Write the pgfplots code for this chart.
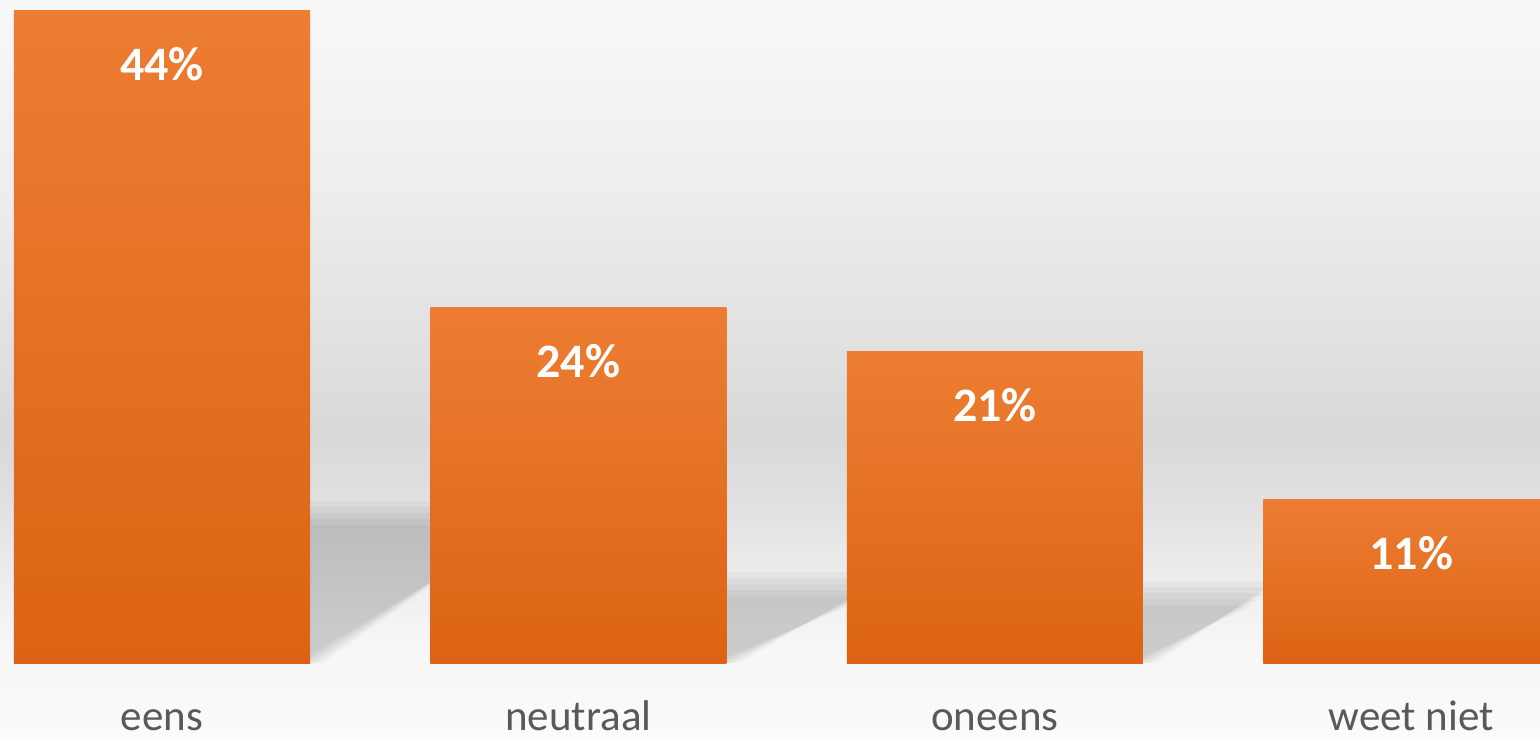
\documentclass[border=0pt]{standalone}
\usepackage{pgfplots}
\pgfplotsset{compat=1.18}
\usepackage{fontspec}
\setmainfont{Carlito}

\definecolor{bartop}{HTML}{ED7D33}
\definecolor{barbot}{HTML}{DC6313}
\definecolor{labgrey}{HTML}{595959}
\definecolor{bgA}{HTML}{FBFBFB}
\definecolor{bgB}{HTML}{F6F6F6}
\definecolor{bgC}{HTML}{EAEAEA}
\definecolor{bgD}{HTML}{E0E0E0}
\definecolor{bgE}{HTML}{D9D9D9}
\definecolor{bgF}{HTML}{EDEDED}
\definecolor{bgG}{HTML}{F8F8F8}

% tikz maps the middle half (25bp..75bp) of a shading onto the path
\pgfdeclareverticalshading{chartbg}{100bp}{%
  color(0bp)=(bgA); color(25bp)=(bgA); color(31.6bp)=(bgB);
  color(37.1bp)=(bgC); color(41.1bp)=(bgD); color(45.6bp)=(bgE);
  color(61.5bp)=(bgF); color(75bp)=(bgG); color(100bp)=(bgG)}

\begin{document}
\begin{tikzpicture}
\useasboundingbox (0,-37.5pt) rectangle (770pt,331.5pt);
\shade[shading=chartbg] (0,-37.5pt) rectangle (770pt,331.5pt);

\begin{axis}[
    at={(0,0)}, anchor=south west,
    scale only axis,
    width=770pt, height=331.5pt,
    xmin=-0.389, xmax=3.309,
    ymin=0, ymax=44.74,
    axis line style={draw=none},
    tick style={draw=none},
    ytick=\empty,
    xtick={0,1,2,3},
    xticklabels={eens,neutraal,oneens,weet niet},
    xticklabel style={anchor=base, yshift=-33.5pt,
        font=\fontsize{21.5}{24}\selectfont, text=labgrey},
    /pgf/number format/assume math mode=true,
    mybar/.style={ybar, bar width=0.711, bar shift=0pt, draw=none,
        top color=bartop, bottom color=barbot,
        nodes near coords={\pgfmathprintnumber{\pgfplotspointmeta}\%},
        every node near coord/.append style={anchor=base, yshift=-35pt,
            text=white, font=\bfseries\fontsize{24}{26}\selectfont}},
    shadow/.style={draw=none, fill=black, fill opacity=0.037, forget plot},
]

% floor shadows behind the bars, five soft layers each
\addplot[shadow] coordinates {(-0.3555,0)(0.3843,0)(0.9243,10.91)(0.1845,10.91)} -- cycle;
\addplot[shadow] coordinates {(-0.3555,0)(0.3699,0)(0.9099,10.505)(0.1845,10.505)} -- cycle;
\addplot[shadow] coordinates {(-0.3555,0)(0.3555,0)(0.8955,10.1)(0.1845,10.1)} -- cycle;
\addplot[shadow] coordinates {(-0.3555,0)(0.3411,0)(0.8811,9.695)(0.1845,9.695)} -- cycle;
\addplot[shadow] coordinates {(-0.3555,0)(0.3267,0)(0.8667,9.29)(0.1845,9.29)} -- cycle;

\addplot[shadow] coordinates {(0.6445,0)(1.3843,0)(1.7593,6.11)(1.0195,6.11)} -- cycle;
\addplot[shadow] coordinates {(0.6445,0)(1.3699,0)(1.7449,5.705)(1.0195,5.705)} -- cycle;
\addplot[shadow] coordinates {(0.6445,0)(1.3555,0)(1.7305,5.3)(1.0195,5.3)} -- cycle;
\addplot[shadow] coordinates {(0.6445,0)(1.3411,0)(1.7161,4.895)(1.0195,4.895)} -- cycle;
\addplot[shadow] coordinates {(0.6445,0)(1.3267,0)(1.7017,4.49)(1.0195,4.49)} -- cycle;

\addplot[shadow] coordinates {(1.6445,0)(2.3843,0)(2.6743,5.51)(1.9345,5.51)} -- cycle;
\addplot[shadow] coordinates {(1.6445,0)(2.3699,0)(2.6599,5.105)(1.9345,5.105)} -- cycle;
\addplot[shadow] coordinates {(1.6445,0)(2.3555,0)(2.6455,4.7)(1.9345,4.7)} -- cycle;
\addplot[shadow] coordinates {(1.6445,0)(2.3411,0)(2.6311,4.295)(1.9345,4.295)} -- cycle;
\addplot[shadow] coordinates {(1.6445,0)(2.3267,0)(2.6167,3.89)(1.9345,3.89)} -- cycle;

\addplot[shadow] coordinates {(2.6445,0)(3.3843,0)(3.5343,3.31)(2.7945,3.31)} -- cycle;
\addplot[shadow] coordinates {(2.6445,0)(3.3699,0)(3.5199,2.905)(2.7945,2.905)} -- cycle;
\addplot[shadow] coordinates {(2.6445,0)(3.3555,0)(3.5055,2.5)(2.7945,2.5)} -- cycle;
\addplot[shadow] coordinates {(2.6445,0)(3.3411,0)(3.4911,2.095)(2.7945,2.095)} -- cycle;
\addplot[shadow] coordinates {(2.6445,0)(3.3267,0)(3.4767,1.69)(2.7945,1.69)} -- cycle;

% bars
\addplot[mybar] coordinates {(0,44)};
\addplot[mybar] coordinates {(1,24)};
\addplot[mybar] coordinates {(2,21)};
\addplot[mybar] coordinates {(3,11)};
\end{axis}
\end{tikzpicture}
\end{document}
